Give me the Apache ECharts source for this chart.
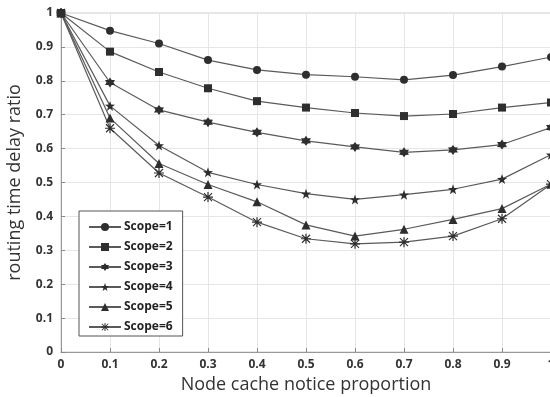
<!DOCTYPE html>
<html>
<head>
<meta charset="utf-8">
<script src="https://cdn.jsdelivr.net/npm/echarts@6/dist/echarts.min.js"></script>
<style>
  html, body { margin: 0; padding: 0; background: #fff; }
  #chart { width: 550px; height: 397px; }
</style>
</head>
<body>
<div id="chart"></div>
<script>
// x positions (node cache notice proportion)
const xs = [0, 0.1, 0.2, 0.3, 0.4, 0.5, 0.6, 0.7, 0.8, 0.9, 1];

// routing time delay ratio per scope
const scope1 = [1, 0.948, 0.910, 0.861, 0.832, 0.818, 0.812, 0.803, 0.817, 0.842, 0.870];
const scope2 = [1, 0.886, 0.826, 0.778, 0.740, 0.721, 0.705, 0.696, 0.702, 0.721, 0.736];
const scope3 = [1, 0.795, 0.714, 0.678, 0.648, 0.623, 0.605, 0.589, 0.596, 0.612, 0.662];
const scope4 = [1, 0.726, 0.609, 0.530, 0.494, 0.467, 0.450, 0.464, 0.480, 0.510, 0.582];
const scope5 = [1, 0.690, 0.556, 0.494, 0.443, 0.375, 0.342, 0.362, 0.391, 0.423, 0.495];
const scope6 = [1, 0.660, 0.528, 0.457, 0.383, 0.334, 0.319, 0.324, 0.342, 0.393, 0.495];

const names = ['Scope=1', 'Scope=2', 'Scope=3', 'Scope=4', 'Scope=5', 'Scope=6'];

// marker shapes
const star6 = 'path://M50,0 L65,24 L93.3,25 L80,50 L93.3,75 L65,76 L50,100 L35,76 L6.7,75 L20,50 L6.7,25 L35,24 Z';
const star5 = 'path://M50,0 L61.8,33.8 L97.6,34.5 L69,56.2 L79.4,90.5 L50,70 L20.6,90.5 L31,56.2 L2.4,34.5 L38.2,33.8 Z';
const aster = 'path://M44,0 L56,0 L56,100 L44,100 Z M0,44 L100,44 L100,56 L0,56 Z M6,14 L14,6 L94,86 L86,94 Z M86,6 L94,14 L14,94 L6,86 Z';

const symbols = ['circle', 'rect', star6, star5, 'triangle', aster];
const sizes = [8, 8, 10, 10, 9, 10];

function pairs(vals) {
    return xs.map((x, i) => [x, vals[i]]);
}

const chart = echarts.init(document.getElementById('chart'));

const option = {
    animation: false,
    grid: {
        left: 61, right: -1, top: 13, bottom: 45,
        outerBoundsMode: 'none',
        containLabel: false,
        show: true,
        borderColor: '#cfcfcf',
        borderWidth: 1
    },
    legend: {
        orient: 'vertical',
        left: 79,
        top: 211,
        padding: [10, 10, 3, 9],
        itemGap: 8,
        itemWidth: 32,
        itemHeight: 10,
        borderColor: '#555',
        borderWidth: 1,
        backgroundColor: '#fff',
        textStyle: { fontFamily: 'Open Sans', fontWeight: 'bold', fontSize: 12, color: '#222', padding: [0, 0, 0, -2] },
        data: names
    },
    xAxis: {
        type: 'value',
        min: 0, max: 1, interval: 0.1,
        name: 'Node cache notice proportion',
        nameLocation: 'middle',
        nameGap: 23,
        nameTextStyle: { fontFamily: 'Open Sans', fontSize: 18, color: '#333' },
        axisLine: { lineStyle: { color: '#999' } },
        axisTick: { inside: true, length: 4, lineStyle: { color: '#888' } },
        axisLabel: {
            fontFamily: 'Open Sans', fontWeight: 'bold', fontSize: 12, color: '#333', margin: 7,
            formatter: v => String(+v.toFixed(1))
        },
        splitLine: { show: true, lineStyle: { color: '#e6e6e6' } }
    },
    yAxis: {
        type: 'value',
        min: 0, max: 1, interval: 0.1,
        name: 'routing time delay ratio',
        nameLocation: 'middle',
        nameGap: 37,
        nameTextStyle: { fontFamily: 'Open Sans', fontSize: 18, color: '#333' },
        axisLine: { show: true, lineStyle: { color: '#999' } },
        axisTick: { show: true, inside: true, length: 4, lineStyle: { color: '#888' } },
        axisLabel: {
            fontFamily: 'Open Sans', fontWeight: 'bold', fontSize: 12, color: '#333', margin: 8,
            formatter: v => String(+v.toFixed(1))
        },
        splitLine: { show: true, lineStyle: { color: '#e6e6e6' } }
    },
    series: [scope1, scope2, scope3, scope4, scope5, scope6].map((vals, i) => ({
        name: names[i],
        type: 'line',
        data: pairs(vals),
        symbol: symbols[i],
        symbolSize: sizes[i],
        showAllSymbol: true,
        clip: false,
        color: '#2e2e2e',
        itemStyle: { color: '#2e2e2e' },
        lineStyle: { color: '#5a5a5a', width: 1.2 }
    }))
};

chart.setOption(option);
</script>
</body>
</html>
